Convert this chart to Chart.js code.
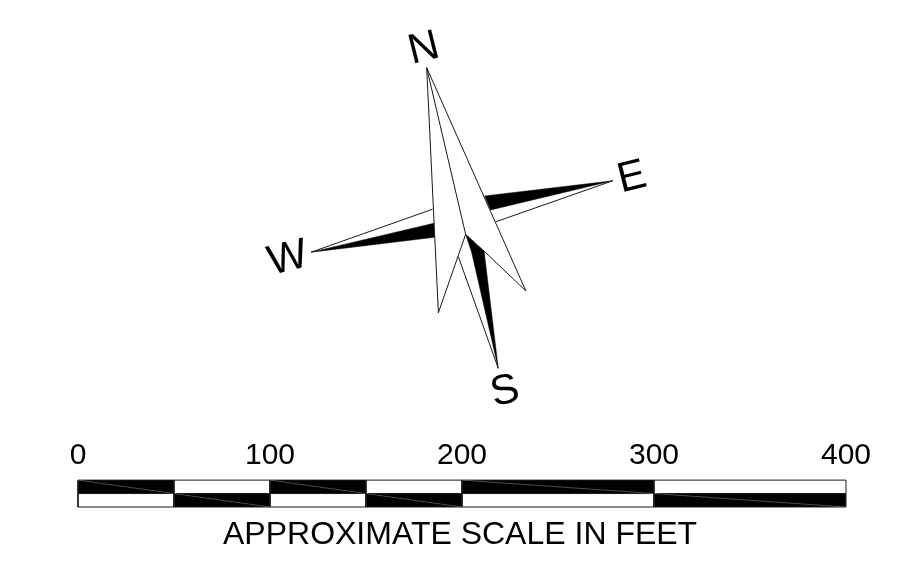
<!DOCTYPE html>
<html>
<head>
<meta charset="utf-8">
<style>
  html, body { margin: 0; padding: 0; background: #fff; }
  canvas { display: block; }
</style>
<script src="https://cdn.jsdelivr.net/npm/chart.js@4"></script>
</head>
<body>
<canvas id="chart" width="915" height="573"></canvas>
<script>
// Scale bar, in feet
const scaleBreaks = [0, 50, 100, 150, 200, 300, 400];
const scaleTicks = [0, 100, 200, 300, 400];
const barRows = [0, 14, 7];   // bottom, top, middle of the bar
const scaleTitle = 'APPROXIMATE SCALE IN FEET';

// Compass in the same feet units
const southWhite = [[198.1, 130.4], [218.9, 72.2], [205.0, 132.7]];
const southEdge = [[198.1, 130.4], [218.9, 72.2]];
const southBlack = [[201.9, 142.0], [211.5, 133.3], [218.9, 72.2], [205.0, 132.7]];
const eastBlack = [[211.8, 162.0], [278.5, 169.9], [214.9, 154.7]];
const eastLine = [[278.5, 169.9], [217.7, 148.6]];
const westBlack = [[121.4, 132.7], [185.4, 147.8], [185.8, 140.5]];
const westLine = [[121.4, 132.7], [184.7, 155.1]];
const northNeedle = [[181.6, 228.8], [233.3, 112.5], [211.5, 133.3], [201.9, 142.0], [187.7, 101.2]];
const northCentre = [[181.6, 228.8], [201.9, 142.0]];

const compassLabels = ['N', 'E', 'S', 'W'];
const compassLabelX = [180.2, 288.5, 222.4, 109.3];
const compassLabelY = [238.5, 171.4, 59.9, 129.2];

const INK = '#1a1a1a';

function toPoints(list, closed) {
  const pts = list.map(p => ({ x: p[0], y: p[1] }));
  if (closed) pts.push(pts[0]);
  return pts;
}

function shape(list, fillColor, lineColor, width) {
  return {
    data: toPoints(list, true),
    showLine: true,
    fill: 'shape',
    backgroundColor: fillColor,
    borderColor: lineColor,
    borderWidth: width,
    pointRadius: 0,
    tension: 0
  };
}

function line(list, color, width) {
  return {
    data: toPoints(list, false),
    showLine: true,
    fill: false,
    borderColor: color,
    borderWidth: width,
    pointRadius: 0,
    tension: 0
  };
}

// Checker cells of the scale bar, with the thin diagonal in each black one
const datasets = [];
for (let i = 0; i < scaleBreaks.length - 1; i++) {
  const a = scaleBreaks[i];
  const b = scaleBreaks[i + 1];
  const topBlack = i % 2 === 0;
  const top = [[a, barRows[2]], [b, barRows[2]], [b, barRows[1]], [a, barRows[1]]];
  const bottom = [[a, barRows[0]], [b, barRows[0]], [b, barRows[2]], [a, barRows[2]]];
  datasets.push(shape(top, topBlack ? '#000' : '#fff', INK, 1));
  datasets.push(shape(bottom, topBlack ? '#fff' : '#000', INK, 1));
  if (topBlack) datasets.push(line([[a, barRows[1]], [b, barRows[2]]], '#999', 0.5));
  else datasets.push(line([[a, barRows[2]], [b, barRows[0]]], '#999', 0.5));
}

// Compass, back to front
datasets.push(line(eastLine, INK, 1));
datasets.push(line(westLine, INK, 1));
datasets.push(shape(eastBlack, '#000', '#000', 0.5));
datasets.push(shape(westBlack, '#000', '#000', 0.5));
datasets.push(shape(southWhite, '#fff', '#fff', 0));
datasets.push(line(southEdge, INK, 1));
datasets.push(shape(southBlack, '#000', '#000', 0.5));
datasets.push(shape(northNeedle, '#fff', INK, 1));
datasets.push(line(northCentre, INK, 1));

// Chart.js paints lower order last, so keep the list order as back to front
datasets.forEach((d, i) => { d.order = datasets.length - i; });

// Letters of the compass and the caption under the bar
const textPlugin = {
  id: 'compassText',
  afterDatasetsDraw(chart) {
    const { ctx, scales } = chart;
    ctx.save();
    ctx.fillStyle = '#000';
    ctx.textAlign = 'center';
    ctx.textBaseline = 'middle';
    ctx.font = '42px "Liberation Sans"';
    compassLabels.forEach((label, i) => {
      ctx.save();
      ctx.translate(scales.x.getPixelForValue(compassLabelX[i]), scales.y.getPixelForValue(compassLabelY[i]));
      ctx.rotate(-14 * Math.PI / 180);
      ctx.fillText(label, 0, 0);
      ctx.restore();
    });
    ctx.font = '32px "Liberation Sans"';
    ctx.fillText(scaleTitle, scales.x.getPixelForValue(199), scales.y.getPixelForValue(-14.5));
    ctx.restore();
  }
};

new Chart(document.getElementById('chart').getContext('2d'), {
  type: 'scatter',
  data: { datasets },
  plugins: [textPlugin],
  options: {
    responsive: false,
    animation: false,
    layout: { padding: 0 },
    plugins: { legend: { display: false }, tooltip: { enabled: false } },
    scales: {
      x: {
        type: 'linear',
        min: -40.625,
        max: 435.9375,
        position: { y: 36 },
        afterBuildTicks: axis => { axis.ticks = scaleTicks.map(v => ({ value: v })); },
        grid: { display: false, drawTicks: false },
        border: { display: false },
        ticks: {
          padding: 0,
          maxRotation: 0,
          autoSkip: false,
          color: '#000',
          font: { family: 'Liberation Sans', size: 30 }
        }
      },
      y: {
        type: 'linear',
        display: false,
        min: -34.375,
        max: 264.0625
      }
    }
  }
});
</script>
</body>
</html>
